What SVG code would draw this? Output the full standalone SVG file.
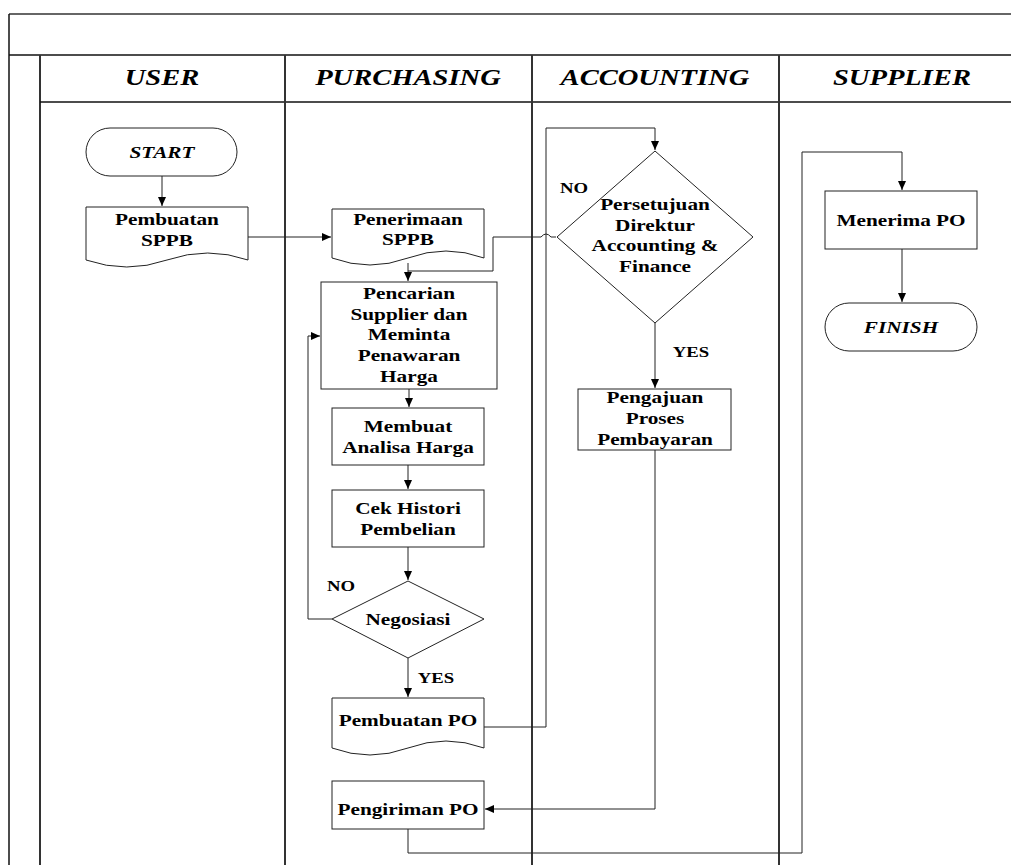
<svg xmlns="http://www.w3.org/2000/svg" width="1011" height="865" viewBox="0 0 1011 865">
  <style>
    .frame { fill: none; stroke: #111; stroke-width: 1.5; }
    .lane { fill: none; stroke: #333; stroke-width: 2; }
    .shape { fill: #fff; stroke: #222; stroke-width: 1; }
    .conn { fill: none; stroke: #222; stroke-width: 1; }
    .arrow { marker-end: url(#ah); }
    text { font-family: "Liberation Serif", "Times New Roman", serif; font-weight: bold; fill: #000; text-anchor: middle; }
    .hd { font-size: 22.5px; font-style: italic; }
    .n { font-size: 17px; }
    .term { font-size: 17px; font-style: italic; }
    .lbl { font-size: 15px; }
  </style>
  <defs>
    <marker id="ah" markerWidth="9" markerHeight="8" refX="9" refY="4" orient="auto" markerUnits="userSpaceOnUse">
      <path d="M0,0 L9,4 L0,8 Z" fill="#000"/>
    </marker>
  </defs>

  <rect width="1011" height="865" fill="#fff"/>

  <!-- swimlane frame -->
  <g id="frame">
    <line x1="9" y1="14" x2="1011" y2="14" stroke="#666" stroke-width="2"/>
    <line x1="9" y1="14" x2="9" y2="865" class="frame"/>
    <line x1="9" y1="55" x2="1011" y2="55" class="frame"/>
    <line x1="40" y1="55" x2="40" y2="865" class="lane"/>
    <line x1="40" y1="102" x2="1011" y2="102" class="frame"/>
    <line x1="285" y1="55" x2="285" y2="865" class="lane"/>
    <line x1="532" y1="55" x2="532" y2="865" class="lane"/>
    <line x1="779" y1="55" x2="779" y2="865" class="lane"/>
    <text class="hd" transform="translate(162,85) scale(1.27,1)">USER</text>
    <text class="hd" transform="translate(408,85) scale(1.27,1)">PURCHASING</text>
    <text class="hd" transform="translate(655,85) scale(1.27,1)">ACCOUNTING</text>
    <text class="hd" transform="translate(902,85) scale(1.27,1)">SUPPLIER</text>
  </g>

  <!-- connectors -->
  <g id="connectors">
    <path class="conn arrow" d="M162,176 V206"/>
    <path class="conn arrow" d="M248,237 H331"/>
    <path class="conn arrow" d="M408,263 V281"/>
    <path class="conn" d="M556,237 H551 Q546,231 541,237 H493 V271 H408"/>
    <path class="conn arrow" d="M409,389 V407"/>
    <path class="conn arrow" d="M408,465 V489"/>
    <path class="conn arrow" d="M408,547 V580"/>
    <path class="conn arrow" d="M332,619 H308 V336 H320"/>
    <path class="conn arrow" d="M408,658 V697"/>
    <path class="conn arrow" d="M484,727 H546 V128 H655 V150"/>
    <path class="conn arrow" d="M655,323 V388"/>
    <path class="conn arrow" d="M655,450 V809 H485"/>
    <path class="conn arrow" d="M408,829 V853 H802 V152 H902 V190"/>
    <path class="conn arrow" d="M902,249 V302"/>
    <text class="lbl" transform="translate(574,193) scale(1.25,1)">NO</text>
    <text class="lbl" transform="translate(691,357) scale(1.25,1)">YES</text>
    <text class="lbl" transform="translate(341,591) scale(1.25,1)">NO</text>
    <text class="lbl" transform="translate(436,683) scale(1.25,1)">YES</text>
  </g>

  <g id="start">
    <rect class="shape" x="86" y="128" width="151" height="48" rx="24" ry="24"/>
    <text class="term" transform="translate(162,158) scale(1.25,1)">START</text>
  </g>

  <g id="pembuatan-sppb">
    <path class="shape" d="M86,207 H248 V260 Q208,246 167,260 Q127,274 86,260 Z"/>
    <text class="n" transform="translate(167,225) scale(1.25,1)"><tspan x="0">Pembuatan</tspan><tspan x="0" dy="21">SPPB</tspan></text>
  </g>

  <g id="penerimaan-sppb">
    <path class="shape" d="M332,209 H484 V258 Q446,244 408,258 Q370,272 332,258 Z"/>
    <text class="n" transform="translate(408,225) scale(1.25,1)"><tspan x="0">Penerimaan</tspan><tspan x="0" dy="20">SPPB</tspan></text>
  </g>

  <g id="pencarian">
    <rect class="shape" x="321" y="282" width="176" height="107"/>
    <text class="n" transform="translate(409,299) scale(1.25,1)"><tspan x="0">Pencarian</tspan><tspan x="0" dy="20.7">Supplier dan</tspan><tspan x="0" dy="20.7">Meminta</tspan><tspan x="0" dy="20.7">Penawaran</tspan><tspan x="0" dy="20.7">Harga</tspan></text>
  </g>

  <g id="analisa-harga">
    <rect class="shape" x="332" y="408" width="152" height="57"/>
    <text class="n" transform="translate(408,432) scale(1.25,1)"><tspan x="0">Membuat</tspan><tspan x="0" dy="21">Analisa Harga</tspan></text>
  </g>

  <g id="cek-histori">
    <rect class="shape" x="332" y="490" width="152" height="57"/>
    <text class="n" transform="translate(408,514) scale(1.25,1)"><tspan x="0">Cek Histori</tspan><tspan x="0" dy="21">Pembelian</tspan></text>
  </g>

  <g id="negosiasi">
    <path class="shape" d="M408,581 L484,619 L408,658 L332,619 Z"/>
    <text class="n" transform="translate(408,625) scale(1.25,1)">Negosiasi</text>
  </g>

  <g id="pembuatan-po">
    <path class="shape" d="M332,698 H484 V748 Q446,734 408,748 Q370,762 332,748 Z"/>
    <text class="n" transform="translate(408,726) scale(1.25,1)">Pembuatan PO</text>
  </g>

  <g id="pengiriman-po">
    <rect class="shape" x="332" y="781" width="152" height="48"/>
    <text class="n" transform="translate(408,815) scale(1.25,1)">Pengiriman PO</text>
  </g>

  <g id="persetujuan">
    <path class="shape" d="M655,151 L753,237 L655,323 L557,237 Z"/>
    <text class="n" transform="translate(655,210) scale(1.25,1)"><tspan x="0">Persetujuan</tspan><tspan x="0" dy="20.7">Direktur</tspan><tspan x="0" dy="20.7">Accounting &amp;</tspan><tspan x="0" dy="20.7">Finance</tspan></text>
  </g>

  <g id="pengajuan">
    <rect class="shape" x="578" y="389" width="153" height="61"/>
    <text class="n" transform="translate(655,403) scale(1.25,1)"><tspan x="0">Pengajuan</tspan><tspan x="0" dy="21">Proses</tspan><tspan x="0" dy="21">Pembayaran</tspan></text>
  </g>

  <g id="menerima-po">
    <rect class="shape" x="825" y="191" width="152" height="58"/>
    <text class="n" transform="translate(901,226) scale(1.25,1)">Menerima PO</text>
  </g>

  <g id="finish">
    <rect class="shape" x="825" y="303" width="152" height="48" rx="24" ry="24"/>
    <text class="term" transform="translate(901,333) scale(1.25,1)">FINISH</text>
  </g>
</svg>
